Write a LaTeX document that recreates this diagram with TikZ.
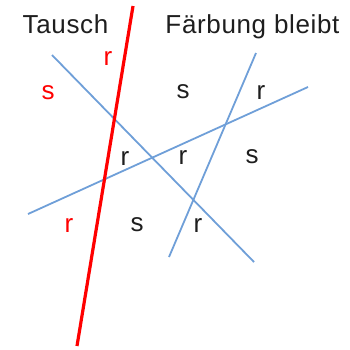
\documentclass[tikz,border=0pt]{standalone}
\usepackage{fontspec}
\setmainfont{Liberation Sans}
\newfontfamily\titlefont[LetterSpace=2.5]{Liberation Sans}
\definecolor{bl}{HTML}{6F9FD8}
\definecolor{txt}{HTML}{1E1E1E}
\begin{document}
\begin{tikzpicture}[x=1pt,y=-1pt,
  lbl/.style={font=\fontsize{26}{30}\selectfont,text=txt,inner sep=0pt},
  lblr/.style={lbl,text=red},
  title/.style={font=\titlefont\fontsize{26}{30}\selectfont,text=txt,inner sep=0pt,anchor=base},
  blueline/.style={draw=bl,line width=1.8pt},
  redline/.style={draw=red,line width=3.2pt}]
\useasboundingbox (0,0) rectangle (350,349);
% endpoints
\coordinate (a1) at (52,55);   \coordinate (a2) at (254,262);
\coordinate (b1) at (28,214);  \coordinate (b2) at (308,87);
\coordinate (c1) at (169,257); \coordinate (c2) at (256,53);
\coordinate (r1) at (133,6);   \coordinate (r2) at (77,346);
\draw[blueline] (a1) -- (a2);
\draw[blueline] (b1) -- (b2);
\draw[blueline] (c1) -- (c2);
\draw[redline] (r1) -- (r2);
% titles
\node[title] (t1) at (65.5,33) {Tausch};
\node[title] (t2) at (252.5,33) {Färbung bleibt};
% labels
\node[lblr] (l1) at (108,58) {r};
\node[lblr] (l2) at (48,93) {s};
\node[lbl] (l3) at (183,92) {s};
\node[lbl] (l4) at (261,92) {r};
\node[lbl] (l5) at (125,158) {r};
\node[lbl] (l6) at (183,157) {r};
\node[lbl] (l7) at (252,157) {s};
\node[lblr] (l8) at (69,225) {r};
\node[lbl] (l9) at (137,225) {s};
\node[lbl] (l10) at (198,225) {r};
\end{tikzpicture}
\end{document}
